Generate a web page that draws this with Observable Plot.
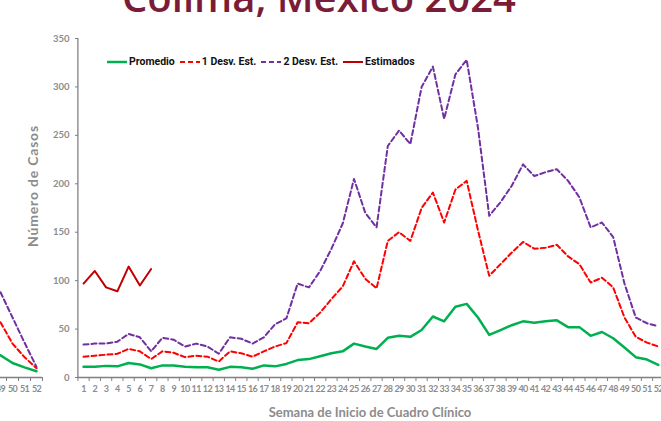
<!DOCTYPE html>
<html><head><meta charset="utf-8">
<script src="https://cdn.jsdelivr.net/npm/d3@7"></script>
<script src="https://cdn.jsdelivr.net/npm/@observablehq/plot@0.6"></script>
<style>
body{margin:0;background:#fff;}
#wrap{position:relative;width:661px;height:421px;overflow:hidden;background:#fff;}
#wrap svg{position:absolute;left:0;top:0;}
#title{position:absolute;left:0;width:638px;top:-23px;text-align:center;font:600 40px/1 "Open Sans",sans-serif;color:#7a1c38;white-space:nowrap;z-index:3;}
#legend{position:absolute;top:55px;left:107px;display:flex;align-items:center;font:bold 10.5px Roboto,sans-serif;color:#111;z-index:3;white-space:nowrap;}
#legend .it{display:flex;align-items:center;margin-right:5px;}
#legend svg{position:static;margin-right:2px;}
</style>
</head><body>
<div id="wrap">
  <div id="title">Colima, México 2024</div>
  <div id="legend"></div>
</div>
<script>
const weeks = [1,2,3,4,5,6,7,8,9,10,11,12,13,14,15,16,17,18,19,20,21,22,23,24,25,26,27,28,29,30,31,32,33,34,35,36,37,38,39,40,41,42,43,44,45,46,47,48,49,50,51,52];
const promedio = [11,11,12,11.5,15,13.5,9.5,12.5,12.5,11,10.5,10.5,8,11,10.5,9,12.5,11.5,14,18,19,22,25,27,35,32,29.5,41,43,42,49,63,58,73,76,62,44,49,54,58,56.5,58,59,52,52,43,47,40.5,31,21,18.5,13];
const desv1 = [21.5,22.5,23.5,24.5,29.5,27,19,27,25.5,21,22.5,21.5,16.5,27,25,21.5,27,32,35.5,57,56,67,81,94,120,102,92,141,150,141,175,191,160,194,203,152,105,117,129,140,133,134,137,125,117,98,103,93,62,42,36,32];
const desv2 = [34,35,35,37,45,41.5,27,41,39,32,35,32,24.5,41.5,40,35,41.5,55,61,97,93,110,133,159,205,170,155,239,255,241,300,321,267,313,328,258,167,181,198,220,208,212,215,203,186,155,160,145,97,62,56,53];
const estWeeks = [1,2,3,4,5,6,7];
const estimados = [97,110,93,89,114.5,95,112];
// tail of the previous year's chart, visible at the left edge
const prevWeeks = [49,50,51,52];
const prevPromedio = [23,15,10.5,6.5];
const prevDesv1 = [57,35,21,9.5];
const prevDesv2 = [88,62,36,11];
const yTicks = [0,50,100,150,200,250,300,350];

const C = {prom:"#00b050", d1:"#ff0000", d2:"#7030a0", est:"#c00000", axis:"#808080", txt:"#8c8c8c"};

const rows = weeks.map((w,i)=>({week:w, promedio:promedio[i], desv1:desv1[i], desv2:desv2[i]}));
const estRows = estWeeks.map((w,i)=>({week:w, v:estimados[i]}));
const prevRows = prevWeeks.map((w,i)=>({week:w, promedio:prevPromedio[i], desv1:prevDesv1[i], desv2:prevDesv2[i]}));
const bounds = [0.5, ...weeks.map(w=>w+0.5)];
const prevBounds = [48.5, ...prevWeeks.map(w=>w+0.5)];

const lineMarks = (data) => [
  Plot.line(data, {x:"week", y:"desv2", stroke:C.d2, strokeWidth:2, strokeDasharray:"5,3"}),
  Plot.line(data, {x:"week", y:"desv1", stroke:C.d1, strokeWidth:2, strokeDasharray:"5,3"}),
  Plot.line(data, {x:"week", y:"promedio", stroke:C.prom, strokeWidth:2.5})
];

const main = Plot.plot({
  width:661, height:421, marginLeft:78, marginRight:0, marginTop:38, marginBottom:44,
  style:{fontFamily:"Lato, sans-serif", background:"transparent"},
  x:{domain:[0.5,52.5], range:[77.4,663.4]},
  y:{domain:[0,350], range:[377,38]},
  marks:[
    Plot.axisY({ticks:yTicks, tickSize:3, tickPadding:6, fontSize:9.5, fontWeight:"bold", color:C.txt, stroke:C.axis, label:null}),
    Plot.axisX({ticks:weeks, tickSize:0, tickPadding:8, fontSize:9, fontWeight:"bold", color:C.txt, label:null, tickFormat:d=>String(d)}),
    Plot.axisX({ticks:bounds, tickSize:4, tickPadding:0, stroke:C.axis, label:null, tickFormat:()=>""}),
    Plot.ruleX([0.5], {y1:0, y2:350, stroke:C.axis, strokeWidth:1.3}),
    Plot.ruleY([0], {x1:0.5, x2:52.5, stroke:C.axis, strokeWidth:1.5}),
    ...lineMarks(rows),
    Plot.line(estRows, {x:"week", y:"v", stroke:C.est, strokeWidth:2}),
    Plot.text(["Semana de Inicio de Cuadro Clínico"], {frameAnchor:"bottom", dy:39, fontSize:13, fontWeight:"bold", fill:C.txt, fontFamily:"Lato"}),
    Plot.text(["Número de Casos"], {frameAnchor:"left", textAnchor:"middle", rotate:-90, dx:-45, dy:-22, fontSize:14, fontWeight:"bold", fill:C.txt, fontFamily:"Lato"})
  ]
});

const frag = Plot.plot({
  width:45, height:421, marginLeft:0, marginRight:0, marginTop:38, marginBottom:44,
  style:{fontFamily:"Lato, sans-serif", background:"transparent", overflow:"hidden"},
  x:{domain:[48.5,52.5], range:[-6,42]},
  y:{domain:[0,350], range:[377,38]},
  marks:[
    Plot.axisX({ticks:prevWeeks, tickSize:0, tickPadding:8, fontSize:9, fontWeight:"bold", color:C.txt, label:null, tickFormat:d=>String(d)}),
    Plot.axisX({ticks:prevBounds, tickSize:4, tickPadding:0, stroke:C.axis, label:null, tickFormat:()=>""}),
    Plot.ruleY([0], {x1:48.5, x2:52.5, stroke:C.axis, strokeWidth:1.5}),
    ...lineMarks(prevRows)
  ]
});

// tighten tick-label letters like the narrow original font
[main, frag].forEach(svg => {
  d3.select(svg).selectAll('g[aria-label="x-axis tick label"] text').attr("letter-spacing", "-0.6");
});
d3.select(main).selectAll('g[aria-label="text"] text').filter(function(){return this.textContent.startsWith("Número");}).attr("letter-spacing", "0.8");

const wrap = document.getElementById("wrap");
wrap.appendChild(main);
wrap.appendChild(frag);

const legendItems = [
  {label:"Promedio", color:C.prom, dash:null, w:2.5},
  {label:"1 Desv. Est.", color:C.d1, dash:"5,3", w:2},
  {label:"2 Desv. Est.", color:C.d2, dash:"5,3", w:2},
  {label:"Estimados", color:C.est, dash:null, w:2}
];
const leg = document.getElementById("legend");
legendItems.forEach(it=>{
  const d = document.createElement("div"); d.className="it";
  d.innerHTML = `<svg width="20" height="6"><line x1="0" x2="20" y1="3" y2="3" stroke="${it.color}" stroke-width="${it.w}" ${it.dash?`stroke-dasharray="${it.dash}"`:""}/></svg><span>${it.label}</span>`;
  leg.appendChild(d);
});
</script>
</body></html>
